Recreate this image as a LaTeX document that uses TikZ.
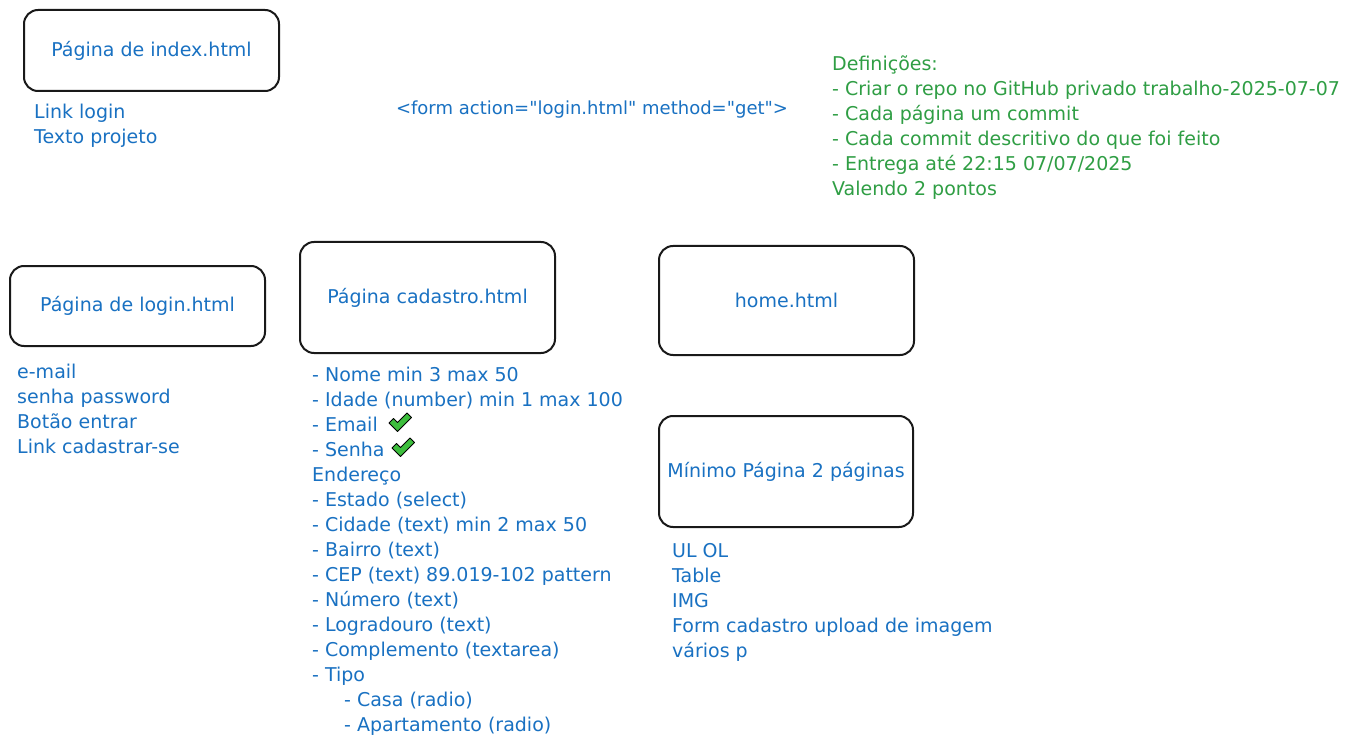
\documentclass[tikz,border=0pt]{standalone}
\usepackage{fontspec}
\setmainfont{DejaVu Sans}[Ligatures=TeXOff]
\usepackage{tikz}
\definecolor{penblue}{HTML}{1971C2}
\definecolor{pengreen}{HTML}{2F9E44}
\definecolor{tickgreen}{HTML}{3DBE3D}

\begin{document}
\begin{tikzpicture}[x=1pt,y=-1pt,
		hand/.style={font=\fontsize{19}{25}\selectfont, inner sep=0pt},
		pagebox/.style={hand, draw=black!90, line width=2pt, rounded corners=14pt, text=penblue, align=center},
		notes/.style={hand, text=penblue, align=left, anchor=north west},
		tick/.pic={\draw[black, line width=0.9pt, fill=tickgreen, line join=round]
			(0,10) -- (4.5,5.5) -- (8.5,9.5) -- (18,0) -- (22.5,4.5) -- (8.5,18.5) -- cycle;}]
			\useasboundingbox[fill=white] (0,0) rectangle (1371,746);
			% page boxes
			\node[pagebox, minimum width=255, minimum height=81] (index) at (151.5,50.5) {Página de index.html};
			\node[pagebox, minimum width=255, minimum height=80] (login) at (137.5,306) {Página de login.html};
			\node[pagebox, minimum width=255, minimum height=111] (cadastro) at (427.5,297.5) {Página cadastro.html};
			\node[pagebox, minimum width=255, minimum height=109] (home) at (786.5,300.5) {home.html};
			\node[pagebox, minimum width=254, minimum height=111] (minimo) at (786,471.5) {Mínimo Página 2 páginas};
			% lists under the boxes
			\node[notes] (indexnotes) at (34,104) {Link login\\Texto projeto};
			\node[notes] (loginnotes) at (17,364) {e-mail\\senha password\\Botão entrar\\Link cadastrar-se};
			\node[notes] (cadastronotes) at (312,367) {- Nome min 3 max 50\\- Idade (number) min 1 max 100\\- Email\\- Senha\\Endereço\\- Estado (select)\\- Cidade (text) min 2 max 50\\- Bairro (text)\\- CEP (text) 89.019-102 pattern\\- Número (text)\\- Logradouro (text)\\- Complemento (textarea)\\- Tipo\\\hspace*{32pt}- Casa (radio)\\\hspace*{32pt}- Apartamento (radio)};
			\node[notes] (minimonotes) at (672,543) {UL OL\\Table\\IMG\\Form cadastro upload de imagem\\vários p};
			\node[hand, text=penblue, font=\fontsize{18}{25}\selectfont] (form) at (592,110) {<form action="login.html" method="get">};
			\node[notes, text=pengreen] (regras) at (832,56) {Definições:\\- Criar o repo no GitHub privado trabalho-2025-07-07\\- Cada página um commit\\- Cada commit descritivo do que foi feito\\- Entrega até 22:15 07/07/2025\\Valendo 2 pontos};
			% checks
			\pic at (389,413) {tick};
			\pic at (392,438) {tick};
		\end{tikzpicture}
\end{document}
